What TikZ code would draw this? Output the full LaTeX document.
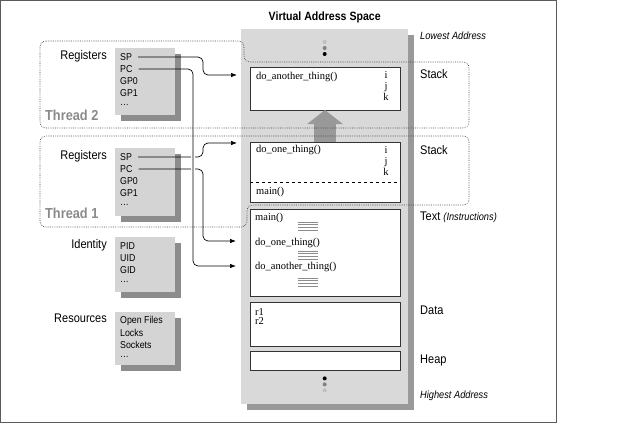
\documentclass[tikz,border=0pt]{standalone}
\usepackage{fontspec}
\setmainfont{Liberation Serif}
\setsansfont[FakeStretch=0.88]{Liberation Sans}
\usetikzlibrary{positioning,shadows,arrows.meta}
\definecolor{panelgray}{HTML}{D4D4D4}
\definecolor{shadowgray}{HTML}{8C8C8C}
\definecolor{columngray}{HTML}{D9D9D9}
\definecolor{framegray}{HTML}{5A5A5A}
\definecolor{threadgray}{HTML}{8A8A8A}
\definecolor{growgray}{HTML}{999999}
\tikzset{>={Latex[length=6pt,width=4.5pt]}}
\tikzstyle{regbox}    = [fill=panelgray, minimum width=60pt, inner sep=0pt,
                         anchor=north west,
                         drop shadow={shadow xshift=6pt, shadow yshift=-6pt,
                                      fill=shadowgray, opacity=1}]
\tikzstyle{regtext}   = [font=\sffamily\fontsize{10}{11}\selectfont,
                         inner sep=0pt, anchor=west]
\tikzstyle{sidelabel} = [font=\sffamily\fontsize{12.5}{13}\selectfont,
                         inner sep=0pt, anchor=north east]
\tikzstyle{seglabel}  = [font=\sffamily\fontsize{12.5}{13}\selectfont,
                         inner sep=0pt, anchor=north west]
\tikzstyle{addrlabel} = [font=\sffamily\itshape\fontsize{10.5}{12}\selectfont,
                         inner sep=0pt, anchor=west]
\tikzstyle{threadname}= [font=\sffamily\bfseries\fontsize{14.5}{15}\selectfont,
                         text=threadgray, inner sep=0pt, anchor=west]
\tikzstyle{segment}   = [draw=black!80, fill=white, line width=0.8pt,
                         minimum width=150pt, inner sep=0pt, outer sep=0pt]
\tikzstyle{code}      = [font=\fontsize{10.5}{11}\selectfont, inner sep=0pt,
                         anchor=west]
\tikzstyle{ptr}       = [->, line width=0.7pt, rounded corners=5pt]
\tikzstyle{thread}    = [draw=black!75, line width=0.6pt,
                         dash pattern=on 0.7pt off 1.1pt, rounded corners=6pt]
\tikzstyle{elide}     = [draw=black!45, line width=0.5pt]

\begin{document}
\begin{tikzpicture}[x=1pt, y=-1pt]

  \useasboundingbox (0,0) rectangle (640,424);
  \draw[framegray, line width=0.8pt] (0.5,0.5) rectangle (556,422);

  % Address space
  \node[fill=columngray, minimum width=167pt, minimum height=375pt,
        anchor=north west, inner sep=0pt,
        drop shadow={shadow xshift=6pt, shadow yshift=-6pt,
                     fill=growgray, opacity=1}] (vas) at (241,29) {};
  \node[font=\sffamily\bfseries\fontsize{12}{13}\selectfont,
        inner sep=0pt, above=6pt of vas] (vastitle) {Virtual Address Space};

  \node[segment, minimum height=43pt, anchor=north west] (stacktwo) at (250,67) {};
  \node[segment, minimum height=60pt, below=32pt of stacktwo] (stackone) {};
  \node[segment, minimum height=87pt, below=7pt of stackone]  (textseg)  {};
  \node[segment, minimum height=44pt, below=6pt of textseg]   (dataseg)  {};
  \node[segment, minimum height=19pt, below=5pt of dataseg]   (heapseg)  {};

  \foreach \c/\d in {black!25/13, black!50/19, black/25}
    \fill[\c] ([yshift=-\d pt]vas.north) circle (2pt);
  \foreach \c/\d in {black/26, black!50/20, black!25/14}
    \fill[\c] ([yshift=\d pt]vas.south) circle (2pt);

  % Stack contents
  \node[code] (fatwo) at ([xshift=6pt,yshift=-10pt]stacktwo.north west) {do\_another\_thing()};
  \node[code, align=center, anchor=north] (vartwo)
    at ([xshift=-14pt,yshift=-4pt]stacktwo.north east) {i\\j\\k};
  \node[code] (foone) at ([xshift=6pt,yshift=-8pt]stackone.north west) {do\_one\_thing()};
  \node[code, align=center, anchor=north] (varone)
    at ([xshift=-14pt,yshift=-4pt]stackone.north east) {i\\j\\k};
  \draw[dashed, line width=0.6pt] ([yshift=-40pt]stackone.north west)
    -- ([yshift=-40pt]stackone.north east);
  \node[code] (mainone) at ([xshift=6pt,yshift=-50pt]stackone.north west) {main()};

  % Text contents
  \node[code] (tmain)    at ([xshift=5pt,yshift=-9pt]textseg.north west)  {main()};
  \node[code] (tone)     at ([xshift=5pt,yshift=-34pt]textseg.north west) {do\_one\_thing()};
  \node[code] (tanother) at ([xshift=5pt,yshift=-58pt]textseg.north west) {do\_another\_thing()};
  \foreach \y in {222,251,278}
    \foreach \k in {0,...,3}
      \draw[elide] (298,\y+2.7*\k) -- (318,\y+2.7*\k);

  \node[code, align=left, anchor=north west, font=\fontsize{10.5}{9.5}\selectfont]
    (rvals) at ([xshift=5pt,yshift=-6pt]dataseg.north west) {r1\\r2};

  % Stack growth
  \draw[growgray, line width=22pt, -{Triangle[width=35pt,length=14pt]}]
    (stackone.north) -- (stacktwo.south);

  % Segment labels
  \node[addrlabel] (lowest)  at (420,36)  {Lowest Address};
  \node[seglabel] (lstacktwo) at ([xshift=20pt,yshift=-2pt]stacktwo.north east) {Stack};
  \node[seglabel] (lstackone) at ([xshift=20pt,yshift=-3pt]stackone.north east) {Stack};
  \node[seglabel] (ltext) at ([xshift=20pt,yshift=-3pt]textseg.north east)
    {Text {\itshape\fontsize{10.5}{12}\selectfont (Instructions)}};
  \node[seglabel] (ldata) at ([xshift=20pt,yshift=-4pt]dataseg.north east) {Data};
  \node[seglabel] (lheap) at ([xshift=20pt,yshift=-4pt]heapseg.north east) {Heap};
  \node[addrlabel] (highest) at (420,396) {Highest Address};

  % Per-thread and shared state
  \node[regbox, minimum height=67pt] (regstwo) at (115,48) {};
  \foreach \r [count=\i] in {SP,PC,GP0,GP1,\dots}
    \node[regtext] (regtwo\i) at (120,45+12*\i) {\r};
  \node[sidelabel] (lregstwo) at ([xshift=-8pt,yshift=-2pt]regstwo.north west) {Registers};
  \node[threadname] (threadtwo) at (45,115) {Thread 2};

  \node[regbox, minimum height=68pt] (regsone) at (115,148) {};
  \foreach \r [count=\i] in {SP,PC,GP0,GP1,\dots}
    \node[regtext] (regone\i) at (120,145+12*\i) {\r};
  \node[sidelabel] (lregsone) at ([xshift=-8pt,yshift=-2pt]regsone.north west) {Registers};
  \node[threadname] (threadone) at (45,213) {Thread 1};

  \node[regbox, minimum height=55pt] (ident) at (115,237) {};
  \foreach \r [count=\i] in {PID,UID,GID,\dots}
    \node[regtext] (ident\i) at (120,234+12*\i) {\r};
  \node[sidelabel] (lident) at ([xshift=-8pt,yshift=-2pt]ident.north west) {Identity};

  \node[regbox, minimum height=53pt] (res) at (115,312) {};
  \foreach \r [count=\i] in {Open Files,Locks,Sockets,\dots}
    \node[regtext] (res\i) at (120,309+12*\i) {\r};
  \node[sidelabel] (lres) at ([xshift=-8pt,yshift=-2pt]res.north west) {Resources};

  % Thread outlines
  \draw[thread] (40,41) -- (244,41) -- (244,62) -- (469,62) -- (469,128)
    -- (40,128) -- cycle;
  \draw[thread] (40,136) -- (469,136) -- (469,205) -- (247,205) -- (247,227)
    -- (40,227) -- cycle;

  % Pointers
  \coordinate (lanepc) at (193,0);
  \coordinate (lanein) at (203,0);
  \coordinate (sptwotip) at ([xshift=-19pt,yshift=2pt]fatwo.west);
  \coordinate (sponetip) at ([xshift=-13pt,yshift=-1pt]stackone.north west);
  \coordinate (pconetip) at ([xshift=-19pt,yshift=2pt]tone.west);
  \coordinate (pctwotip) at ([xshift=-19pt,yshift=1pt]tanother.west);

  \draw[ptr] ([xshift=6pt]regtwo1.east) -| (lanein |- sptwotip) -- (sptwotip);
  \draw[ptr] ([xshift=6pt]regone1.east) -| (lanein |- sponetip) -- (sponetip);
  \draw[ptr] ([xshift=6pt]regone2.east) -| (lanein |- pconetip) -- (pconetip);
  \draw[white, line width=4pt] (lanepc |- regone1.north) -- (lanepc |- regone2.south);
  \draw[ptr] ([xshift=6pt]regtwo2.east) -| (lanepc |- pctwotip) -- (pctwotip);

\end{tikzpicture}
\end{document}
